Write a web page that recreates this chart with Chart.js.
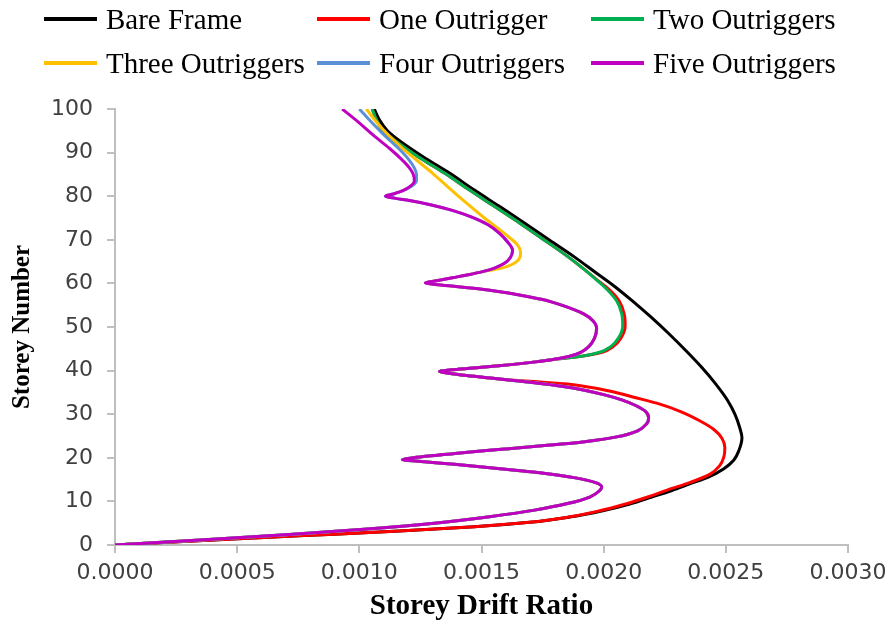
<!DOCTYPE html>
<html>
<head>
<meta charset="utf-8">
<script src="https://cdn.jsdelivr.net/npm/chart.js@4.4.0/dist/chart.umd.min.js"></script>
<style>
  html, body { margin: 0; padding: 0; background: #fff; }
  #wrap { position: relative; width: 894px; height: 624px; }
  #legend {
    position: absolute; left: 44px; top: 3px;
    display: grid; grid-template-columns: 273px 274px auto; grid-auto-rows: 43.5px;
    font-family: "Liberation Serif", "Times New Roman", serif; font-size: 29px; color: #000;
  }
  .item { display: flex; align-items: center; line-height: 32px; height: 32px; }
  .swatch { width: 53px; height: 4px; margin-right: 9px; }
</style>
</head>
<body>
<div id="wrap">
  <canvas id="driftChart" width="894" height="624"></canvas>
  <div id="legend"></div>
</div>
<script>
// [storey drift ratio, storey number]
const bareFrame = [
  [0, 0], [0.00034, 1.0], [0.00075, 2.1], [0.001164, 3.2], [0.001471, 4.2], [0.001697, 5.2],
  [0.001861, 6.4], [0.001992, 7.8], [0.002107, 9.4], [0.002197, 11], [0.002279, 12.5],
  [0.002352, 14], [0.002426, 15.5], [0.002492, 17.5], [0.002533, 19.5], [0.002553, 21.6],
  [0.002566, 24.6], [0.002557, 26.9], [0.002537, 30], [0.002508, 33.1], [0.002459, 36.9],
  [0.002402, 40.7], [0.002336, 44.6], [0.002266, 48.5], [0.002193, 52.3], [0.002115, 56.1],
  [0.002045, 59.3], [0.001967, 62.5], [0.001877, 66.2], [0.001779, 69.9], [0.00168, 73.7],
  [0.001578, 77.5], [0.001471, 81.4], [0.001369, 85.3], [0.001262, 89], [0.00116, 92.9],
  [0.001115, 95], [0.001082, 97.5], [0.001061, 100]
];
const oneOutrigger = [
  [0, 0], [0.00034, 1.0], [0.00075, 2.1], [0.001164, 3.2], [0.001471, 4.2], [0.001697, 5.2],
  [0.001855, 6.4], [0.00198, 7.8], [0.00209, 9.4], [0.00218, 11], [0.00226, 12.6],
  [0.002352, 14.3], [0.002434, 16.2], [0.002475, 18.2], [0.002492, 20.2], [0.002496, 22.3],
  [0.002484, 24.5], [0.002451, 26.5], [0.002393, 28.5], [0.00232, 30.5], [0.00223, 32.3],
  [0.002123, 33.9], [0.002033, 35.2], [0.001943, 36.2], [0.001852, 36.9], [0.00174, 37.4],
  [0.001602, 37.9], [0.001504, 38.5], [0.001418, 39], [0.001365, 39.4], [0.001328, 39.8],
  [0.001377, 40.2], [0.001467, 40.6], [0.00157, 41.1], [0.001721, 42], [0.001799, 42.6],
  [0.00191, 43.3], [0.001994, 44.2], [0.002039, 45.5], [0.002071, 47.5], [0.002088, 50.3],
  [0.002084, 53], [0.002063, 56], [0.002024, 58.5], [0.001969, 61], [0.001914, 63.5],
  [0.001852, 66.2], [0.001758, 69.9], [0.00166, 73.7], [0.001557, 77.5], [0.001451, 81.4],
  [0.001348, 85.3], [0.001242, 89], [0.001143, 92.9], [0.001098, 95], [0.00107, 97.5],
  [0.001053, 100]
];
const twoOutriggers = [
  [0, 0], [0.000365, 1.2], [0.000713, 2.4], [0.00102, 3.6], [0.001307, 5], [0.001533, 6.5],
  [0.001717, 8], [0.001852, 9.5], [0.001943, 11], [0.001984, 12.5], [0.001992, 13.3],
  [0.001967, 14.3], [0.001885, 15.4], [0.001779, 16.3], [0.001648, 17.1], [0.001525, 17.8],
  [0.001389, 18.5], [0.001266, 19.1], [0.001176, 19.6], [0.001221, 20], [0.00132, 20.6],
  [0.001443, 21.3], [0.001594, 22], [0.001758, 22.8], [0.001922, 23.7], [0.002053, 24.8],
  [0.002139, 26.2], [0.002176, 27.8], [0.002184, 29.2], [0.002172, 30.6], [0.002131, 32],
  [0.002074, 33.3], [0.002, 34.5], [0.001922, 35.5], [0.001828, 36.4], [0.001717, 37.2],
  [0.001602, 37.9], [0.001504, 38.5], [0.001418, 39], [0.001365, 39.4], [0.001328, 39.8],
  [0.001377, 40.2], [0.001467, 40.6], [0.00157, 41.1], [0.001721, 42], [0.001799, 42.6],
  [0.00191, 43.3], [0.001984, 44.2], [0.002029, 45.5], [0.002061, 47.5], [0.002078, 50.3],
  [0.002074, 53], [0.002053, 56], [0.002016, 58.5], [0.001967, 61], [0.001914, 63.5],
  [0.001852, 66.2], [0.001758, 69.9], [0.00166, 73.7], [0.001557, 77.5], [0.001451, 81.4],
  [0.001348, 85.3], [0.001242, 89], [0.001143, 92.9], [0.001098, 95], [0.00107, 97.5],
  [0.001053, 100]
];
const threeOutriggers = [
  [0, 0], [0.000365, 1.2], [0.000713, 2.4], [0.00102, 3.6], [0.001307, 5], [0.001533, 6.5],
  [0.001717, 8], [0.001852, 9.5], [0.001943, 11], [0.001984, 12.5], [0.001992, 13.3],
  [0.001967, 14.3], [0.001885, 15.4], [0.001779, 16.3], [0.001648, 17.1], [0.001525, 17.8],
  [0.001389, 18.5], [0.001266, 19.1], [0.001176, 19.6], [0.001221, 20], [0.00132, 20.6],
  [0.001443, 21.3], [0.001594, 22], [0.001758, 22.8], [0.001922, 23.7], [0.002053, 24.8],
  [0.002139, 26.2], [0.002176, 27.8], [0.002184, 29.2], [0.002172, 30.6], [0.002131, 32],
  [0.002074, 33.3], [0.002, 34.5], [0.001922, 35.5], [0.001828, 36.4], [0.001717, 37.2],
  [0.001602, 37.9], [0.001504, 38.5], [0.001418, 39], [0.001365, 39.4], [0.001328, 39.8],
  [0.001377, 40.2], [0.001467, 40.6], [0.00157, 41.1], [0.001721, 42], [0.001799, 42.6],
  [0.001861, 43.3], [0.001906, 44.2], [0.001939, 45.5], [0.001963, 47.5], [0.001971, 49.7],
  [0.001955, 51.5], [0.001918, 53], [0.001828, 55], [0.00175, 56.3], [0.00166, 57.3],
  [0.001561, 58.2], [0.001467, 58.9], [0.001377, 59.4], [0.001303, 59.8], [0.00127, 60.1],
  [0.001316, 60.6], [0.001381, 61.3], [0.001447, 62], [0.001504, 62.7], [0.001582, 63.5],
  [0.001631, 64.5], [0.001656, 65.8], [0.00166, 67.2], [0.001648, 68.8], [0.001615, 70.5],
  [0.00157, 72.5], [0.001512, 75], [0.001439, 78.4], [0.001369, 81.8], [0.001299, 85.3],
  [0.001234, 88.3], [0.001172, 91.2], [0.001119, 94], [0.001078, 96.5], [0.001049, 98.5],
  [0.001029, 100]
];
const fourOutriggers = [
  [0, 0], [0.000365, 1.2], [0.000713, 2.4], [0.00102, 3.6], [0.001307, 5], [0.001533, 6.5],
  [0.001717, 8], [0.001852, 9.5], [0.001943, 11], [0.001984, 12.5], [0.001992, 13.3],
  [0.001967, 14.3], [0.001885, 15.4], [0.001779, 16.3], [0.001648, 17.1], [0.001525, 17.8],
  [0.001389, 18.5], [0.001266, 19.1], [0.001176, 19.6], [0.001221, 20], [0.00132, 20.6],
  [0.001443, 21.3], [0.001594, 22], [0.001758, 22.8], [0.001922, 23.7], [0.002053, 24.8],
  [0.002139, 26.2], [0.002176, 27.8], [0.002184, 29.2], [0.002172, 30.6], [0.002131, 32],
  [0.002074, 33.3], [0.002, 34.5], [0.001922, 35.5], [0.001828, 36.4], [0.001717, 37.2],
  [0.001602, 37.9], [0.001504, 38.5], [0.001418, 39], [0.001365, 39.4], [0.001328, 39.8],
  [0.001377, 40.2], [0.001467, 40.6], [0.00157, 41.1], [0.001721, 42], [0.001799, 42.6],
  [0.001861, 43.3], [0.001906, 44.2], [0.001939, 45.5], [0.001963, 47.5], [0.001971, 49.7],
  [0.001955, 51.5], [0.001918, 53], [0.001828, 55], [0.00175, 56.3], [0.00166, 57.3],
  [0.001561, 58.2], [0.001467, 58.9], [0.001377, 59.4], [0.001303, 59.8], [0.00127, 60.1],
  [0.001316, 60.6], [0.001381, 61.3], [0.001447, 62], [0.001504, 62.7], [0.001553, 63.5],
  [0.001594, 64.6], [0.001619, 66], [0.001627, 67.6], [0.001607, 69.5], [0.001574, 71.5],
  [0.001525, 73.5], [0.001455, 75.3], [0.001377, 76.8], [0.001295, 78], [0.001205, 79],
  [0.001148, 79.5], [0.001107, 80], [0.001139, 80.5], [0.001176, 81.2], [0.001213, 82.3],
  [0.001234, 83.5], [0.001234, 85], [0.001225, 86.5], [0.001201, 88.5], [0.00116, 91],
  [0.001102, 94], [0.001049, 97], [0.001, 100]
];
const fiveOutriggers = [
  [0, 0], [0.000365, 1.2], [0.000713, 2.4], [0.00102, 3.6], [0.001307, 5], [0.001533, 6.5],
  [0.001717, 8], [0.001852, 9.5], [0.001943, 11], [0.001984, 12.5], [0.001992, 13.3],
  [0.001967, 14.3], [0.001885, 15.4], [0.001779, 16.3], [0.001648, 17.1], [0.001525, 17.8],
  [0.001389, 18.5], [0.001266, 19.1], [0.001176, 19.6], [0.001221, 20], [0.00132, 20.6],
  [0.001443, 21.3], [0.001594, 22], [0.001758, 22.8], [0.001922, 23.7], [0.002053, 24.8],
  [0.002139, 26.2], [0.002176, 27.8], [0.002184, 29.2], [0.002172, 30.6], [0.002131, 32],
  [0.002074, 33.3], [0.002, 34.5], [0.001922, 35.5], [0.001828, 36.4], [0.001717, 37.2],
  [0.001602, 37.9], [0.001504, 38.5], [0.001418, 39], [0.001365, 39.4], [0.001328, 39.8],
  [0.001377, 40.2], [0.001467, 40.6], [0.00157, 41.1], [0.001721, 42], [0.001799, 42.6],
  [0.001861, 43.3], [0.001906, 44.2], [0.001939, 45.5], [0.001963, 47.5], [0.001971, 49.7],
  [0.001955, 51.5], [0.001918, 53], [0.001828, 55], [0.00175, 56.3], [0.00166, 57.3],
  [0.001561, 58.2], [0.001467, 58.9], [0.001377, 59.4], [0.001303, 59.8], [0.00127, 60.1],
  [0.001316, 60.6], [0.001381, 61.3], [0.001447, 62], [0.001504, 62.7], [0.001553, 63.5],
  [0.001594, 64.6], [0.001619, 66], [0.001627, 67.6], [0.001607, 69.5], [0.001574, 71.5],
  [0.001525, 73.5], [0.001455, 75.3], [0.001377, 76.8], [0.001295, 78], [0.001205, 79],
  [0.001148, 79.5], [0.001107, 80], [0.001139, 80.5], [0.001176, 81.2], [0.001209, 82.3],
  [0.001225, 83.5], [0.001221, 85], [0.001205, 86.5], [0.001172, 88.5], [0.001123, 91],
  [0.001057, 94], [0.000996, 97], [0.00093, 100]
];

const seriesNames = ["Bare Frame", "One Outrigger", "Two Outriggers", "Three Outriggers", "Four Outriggers", "Five Outriggers"];
const seriesData = [bareFrame, oneOutrigger, twoOutriggers, threeOutriggers, fourOutriggers, fiveOutriggers];
const seriesColors = ["#000000", "#FF0000", "#00B050", "#FFC000", "#5B8FD6", "#C000C0"];
const drawOrder = [5, 4, 3, 2, 1, 0]; // five outriggers drawn on top

const xTicks = [0, 0.0005, 0.001, 0.0015, 0.002, 0.0025, 0.003];
const yTicks = [0, 10, 20, 30, 40, 50, 60, 70, 80, 90, 100];

const datasets = seriesNames.map((name, i) => ({
  label: name,
  data: seriesData[i].map((p) => ({ x: p[0], y: p[1] })),
  borderColor: seriesColors[i],
  backgroundColor: seriesColors[i],
  borderWidth: 3,
  showLine: true,
  pointRadius: 0,
  indexAxis: "y", // storey only goes up along each curve, so smooth drift against it
  cubicInterpolationMode: "monotone",
  order: drawOrder[i],
}));

// legend as html, three columns like the original
const legend = document.getElementById("legend");
datasets.forEach((ds) => {
  const item = document.createElement("div");
  item.className = "item";
  const sw = document.createElement("span");
  sw.className = "swatch";
  sw.style.background = ds.borderColor;
  const txt = document.createElement("span");
  txt.textContent = ds.label;
  item.appendChild(sw);
  item.appendChild(txt);
  legend.appendChild(item);
});

const axisGray = "#BFBFBF";
const tickFont = { family: "DejaVu Sans", size: 22 };

new Chart(document.getElementById("driftChart").getContext("2d"), {
  type: "scatter",
  data: { datasets: datasets },
  options: {
    indexAxis: "y",
    responsive: false,
    animation: false,
    layout: { autoPadding: false, padding: { top: 109, right: 46, bottom: 0, left: 0 } },
    plugins: { legend: { display: false }, tooltip: { enabled: false } },
    scales: {
      x: {
        type: "linear",
        min: xTicks[0],
        max: xTicks[xTicks.length - 1],
        afterBuildTicks: (scale) => { scale.ticks = xTicks.map((v) => ({ value: v })); },
        afterFit: (scale) => { scale.height = 79; },
        ticks: { font: tickFont, color: "#404040", padding: 7, maxRotation: 0, callback: (v) => Number(v).toFixed(4) },
        grid: { drawOnChartArea: false, drawTicks: true, tickLength: 8, color: axisGray, lineWidth: 2 },
        border: { display: true, color: axisGray, width: 2 },
        title: {
          display: true,
          text: "Storey Drift Ratio",
          color: "#000",
          font: { family: "Liberation Serif", size: 29, weight: "bold" },
          padding: { top: 0, bottom: 0 },
        },
      },
      y: {
        type: "linear",
        min: yTicks[0],
        max: yTicks[yTicks.length - 1],
        afterBuildTicks: (scale) => { scale.ticks = yTicks.map((v) => ({ value: v })); },
        afterFit: (scale) => { scale.width = 115; },
        ticks: { font: tickFont, color: "#404040", padding: 14 },
        grid: { drawOnChartArea: false, drawTicks: true, tickLength: 8, color: axisGray, lineWidth: 2 },
        border: { display: true, color: axisGray, width: 2 },
        title: {
          display: true,
          text: "Storey Number",
          color: "#000",
          font: { family: "Liberation Serif", size: 25, weight: "bold" },
          padding: { top: 8, bottom: 8 },
        },
      },
    },
  },
});
</script>
</body>
</html>
